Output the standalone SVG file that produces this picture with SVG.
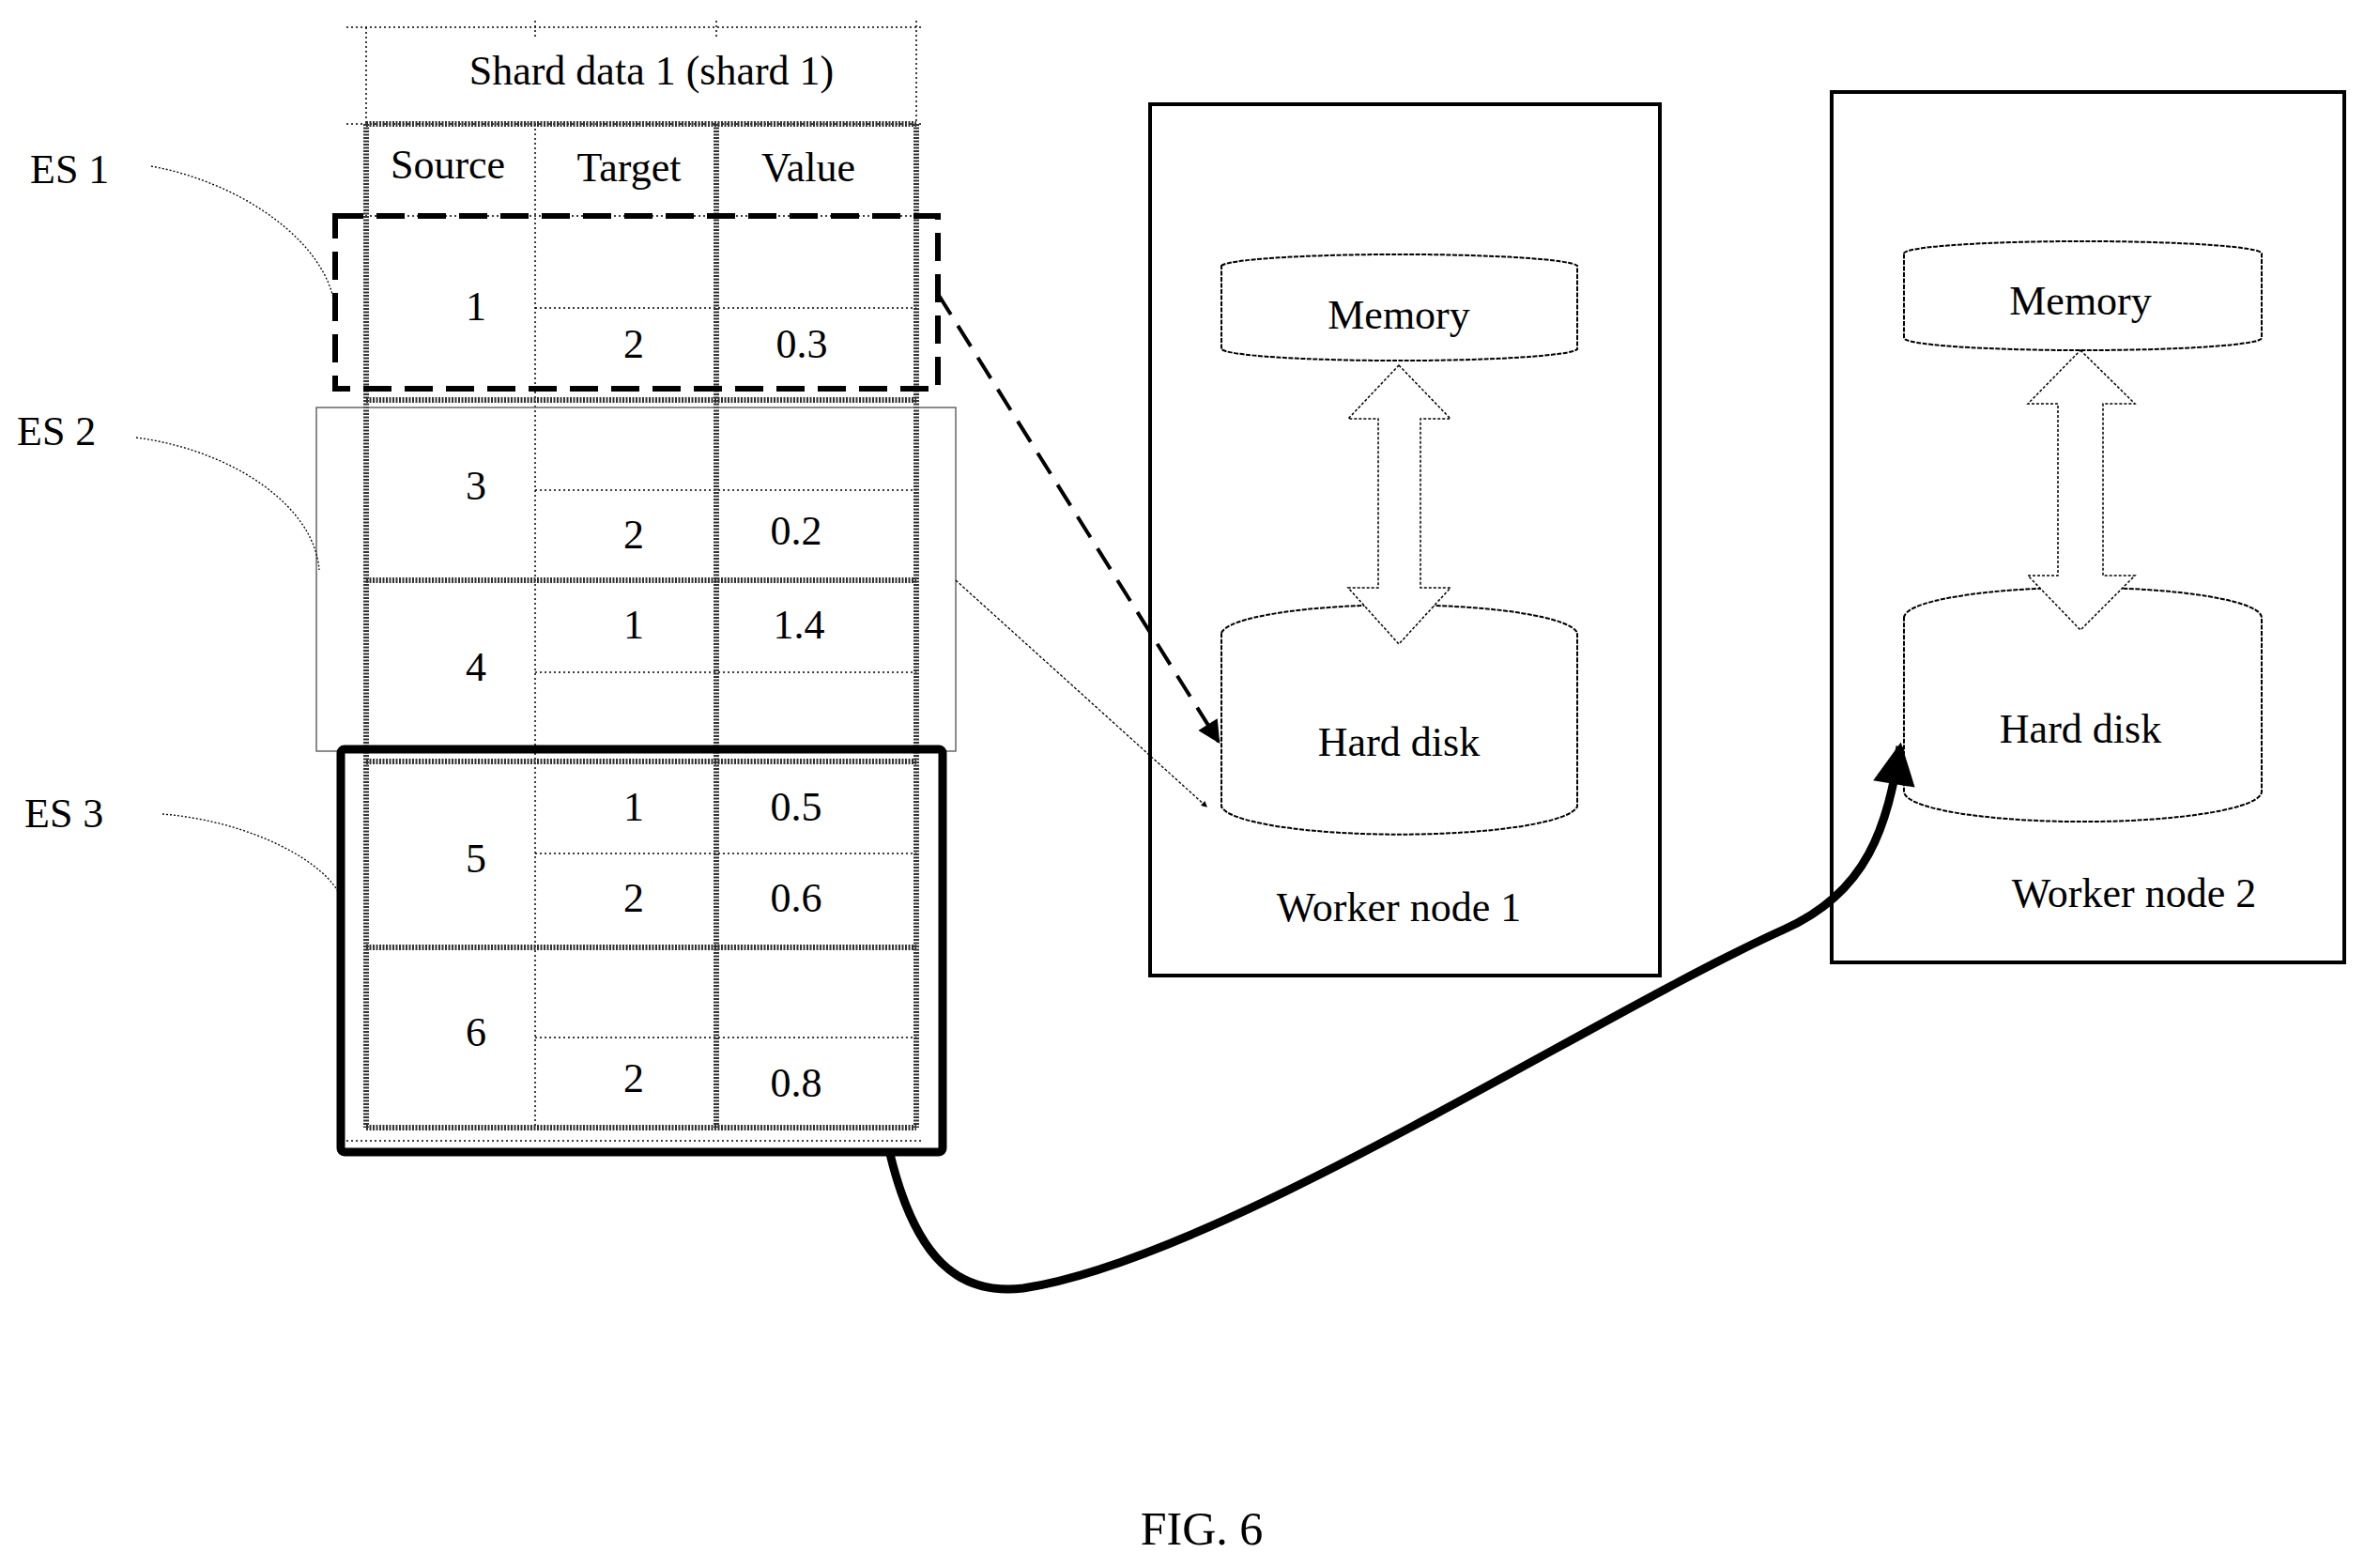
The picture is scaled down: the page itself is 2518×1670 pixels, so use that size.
<svg xmlns="http://www.w3.org/2000/svg" width="2518" height="1670" viewBox="0 0 2518 1670">
<style>
text{font-family:"Liberation Serif","Times New Roman",serif;font-size:44px;fill:#000;text-anchor:middle}
.lbl{text-anchor:start}
.dot{stroke:#000;stroke-width:1.5;stroke-dasharray:2 3;fill:none}
.hat{stroke:#333;stroke-width:6;stroke-dasharray:2 1.5;fill:none}
.cyl{fill:#fff;stroke:#000;stroke-width:2;stroke-dasharray:5 1.5}
.box{fill:none;stroke:#000;stroke-width:4}
</style>
<defs>
<marker id="ahd" viewBox="0 0 10 10" refX="9" refY="5" markerWidth="6" markerHeight="5" orient="auto"><path d="M0,0 L10,5 L0,10 z" fill="#000"/></marker>
<marker id="aht" viewBox="0 0 10 10" refX="9" refY="5" markerWidth="30" markerHeight="24" markerUnits="userSpaceOnUse" orient="auto"><path d="M0,0 L10,5 L0,10 z" fill="#000"/></marker>
<marker id="ahb" viewBox="0 0 10 10" refX="8" refY="5" markerWidth="6" markerHeight="5" orient="auto"><path d="M0,0 L10,5 L0,10 z" fill="#000"/></marker>
</defs>
<rect width="2518" height="1670" fill="#fff"/>
<g id="table">
<path class="dot" d="M369,29 H983 M369,132 H983 M390,29 V132 M570,22 V40 M763,22 V40 M976,22 V132 M570,132 V1201 M369,230 H983 M570,328 H976 M570,522 H976 M570,716 H976 M570,909 H976 M570,1105 H976 M369,1215 H983"/>
<path class="hat" d="M390,132 H976 M390,132 V1201 M763,132 V1201 M976,132 V1201 M390,426 H976 M390,618 H976 M390,811 H976 M390,1009 H976 M390,1201 H976"/>
<text x="694" y="90">Shard data 1 (shard 1)</text>
<text x="477" y="190">Source</text><text x="670" y="193">Target</text><text x="861" y="193">Value</text>
<text x="507" y="341">1</text><text x="675" y="381">2</text><text x="854" y="381">0.3</text>
<text x="507" y="532">3</text><text x="675" y="584">2</text><text x="848" y="580">0.2</text>
<text x="675" y="680">1</text><text x="851" y="680">1.4</text><text x="507" y="725">4</text>
<text x="675" y="874">1</text><text x="848" y="874">0.5</text><text x="507" y="929">5</text>
<text x="675" y="971">2</text><text x="848" y="971">0.6</text>
<text x="507" y="1114">6</text><text x="675" y="1163">2</text><text x="848" y="1168">0.8</text>
</g>
<g id="es1"><rect x="357" y="230" width="642" height="184" fill="none" stroke="#000" stroke-width="6" stroke-dasharray="30 14"/><text class="lbl" x="32" y="195">ES 1</text></g>
<g id="es2"><rect x="337" y="434" width="681" height="366" fill="none" stroke="#666" stroke-width="1.5"/><text class="lbl" x="18" y="474">ES 2</text></g>
<g id="es3"><rect x="363" y="798" width="641" height="429" rx="4" fill="none" stroke="#000" stroke-width="9"/><text class="lbl" x="26" y="881">ES 3</text></g>
<g id="worker1">
<rect class="box" x="1225" y="111" width="543" height="928"/>
<path class="cyl" d="M1301,283 A190,13 0 0 1 1680,283 V372 A190,13 0 0 1 1301,372 Z"/>
<path class="cyl" d="M1301,674 A190,32 0 0 1 1680,674 V859 A190,32 0 0 1 1301,859 Z"/>
<path fill="#fff" stroke="#000" stroke-width="1.5" stroke-dasharray="3 2" d="M1490,389 L1545,446 L1513,446 L1513,626 L1545,626 L1490,686 L1436,626 L1468,626 L1468,446 L1436,446 Z"/>
<text x="1490" y="350">Memory</text><text x="1490" y="805">Hard disk</text><text x="1490" y="981">Worker node 1</text>
</g>
<g id="worker2">
<rect class="box" x="1951" y="98" width="546" height="927"/>
<path class="cyl" d="M2028,270 A190,13 0 0 1 2409,270 V360 A190,13 0 0 1 2028,360 Z"/>
<path class="cyl" d="M2028,658 A190,32 0 0 1 2409,658 V843 A190,32 0 0 1 2028,843 Z"/>
<path fill="#fff" stroke="#000" stroke-width="1.5" stroke-dasharray="3 2" d="M2216,373 L2274,430 L2240,430 L2240,613 L2274,613 L2216,671 L2160,613 L2192,613 L2192,430 L2160,430 Z"/>
<text x="2216" y="335">Memory</text><text x="2216" y="791">Hard disk</text><text x="2273" y="966">Worker node 2</text>
</g>
<g id="connectors">
<path d="M161,177 C260,195 350,260 357,329" fill="none" stroke="#000" stroke-width="1.3" stroke-dasharray="2 2"/>
<path d="M145,466 C250,480 335,540 340,607" fill="none" stroke="#000" stroke-width="1.3" stroke-dasharray="2 2"/>
<path d="M173,867 C270,875 350,920 363,956" fill="none" stroke="#000" stroke-width="1.3" stroke-dasharray="2 2"/>
<path d="M999,313 L1298,790" fill="none" stroke="#000" stroke-width="4" stroke-dasharray="26 14" marker-end="url(#aht)"/>
<path d="M1018,618 L1285,859" fill="none" stroke="#000" stroke-width="1.3" stroke-dasharray="3 2" marker-end="url(#ahb)"/>
<path d="M948,1229 C975,1340 1020,1380 1090,1372 C1300,1340 1700,1080 1900,990 C1990,950 2010,880 2024,795" fill="none" stroke="#000" stroke-width="9" marker-end="url(#ahd)"/>
</g>
<text x="1280" y="1645" style="font-size:50px">FIG. 6</text>
</svg>
